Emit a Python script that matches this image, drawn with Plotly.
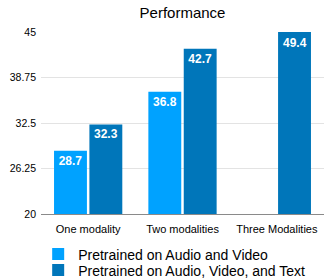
import plotly.graph_objects as go

categories = ["One modality", "Two modalities", "Three Modalities"]
av_values = [28.7, 36.8, None]
avt_values = [32.3, 42.7, 49.4]
series_names = ["Pretrained on Audio and Video", "Pretrained on Audio, Video, and Text"]
tick_vals = [20, 26.25, 32.5, 38.75, 45]
tick_text = ["20", "26.25", "32.5", "38.75", "45"]
y_range = [20, 45]

FONT = "Liberation Sans, Arial, Helvetica, sans-serif"
BARGAP = 0.25
GROUPGAP = 0.07
colors = ["#00A2FF", "#0076BA"]


def labels(vals):
    # labels for bars that fit inside the axis range; clipped bars labelled by annotation
    return [("" if (v is None or v > y_range[1]) else f"{v:.1f}") for v in vals]


fig = go.Figure()
for i, (vals, name) in enumerate([(av_values, series_names[0]), (avt_values, series_names[1])]):
    fig.add_trace(go.Bar(
        x=categories, y=vals, name=name,
        legend="legend" if i == 0 else "legend2",
        marker=dict(color=colors[i], line=dict(width=0)),
        text=labels(vals), textposition="inside", insidetextanchor="end",
        textangle=0, constraintext="none",
        textfont=dict(color="white", size=12, family=FONT, weight="bold"),
    ))

# labels for bars clipped by the axis range
slot = (1 - BARGAP) / 2
for s, vals in enumerate([av_values, avt_values]):
    for ci, v in enumerate(vals):
        if v is not None and v > y_range[1]:
            fig.add_annotation(
                x=ci + (s - 0.5) * slot, y=y_range[1], xref="x", yref="y",
                text=f"<b>{v:.1f}</b>", showarrow=False,
                yanchor="top", yshift=-2,
                font=dict(color="white", size=12, family=FONT),
            )

legend_common = dict(orientation="v", xref="container", yref="container",
                     xanchor="left", yanchor="middle",
                     font=dict(size=14, family=FONT, color="black"),
                     itemsizing="constant", bgcolor="rgba(0,0,0,0)",
                     borderwidth=0)

fig.update_layout(
    width=332, height=280,
    margin=dict(l=41, r=8, t=32, b=66, autoexpand=False),
    paper_bgcolor="white", plot_bgcolor="white",
    barmode="group", bargap=BARGAP, bargroupgap=GROUPGAP,
    title=dict(text="Performance", x=0.5, xref="paper", xanchor="center",
               y=1 - 13 / 280, yref="container", yanchor="middle",
               font=dict(size=15, family=FONT, color="black")),
    font=dict(family=FONT, color="black"),
    showlegend=True,
    legend=dict(x=0.115, y=1 - 254.5 / 280, **legend_common),
    legend2=dict(x=0.115, y=1 - 270.5 / 280, **legend_common),
)
fig.update_yaxes(range=y_range, tickvals=tick_vals, ticktext=tick_text,
                 showgrid=True, gridcolor="#e3e3e3", gridwidth=1,
                 zeroline=False, showline=False, ticks="",
                 automargin=False, ticklabelstandoff=4,
                 tickfont=dict(size=10.5, family=FONT, color="black"))
fig.update_xaxes(showgrid=False, showline=True, linecolor="#8a8a8a", linewidth=1,
                 ticks="", automargin=False, ticklabelstandoff=5,
                 tickfont=dict(size=11, family=FONT, color="black"))

fig.write_html(
    "out.html",
    config={"displayModeBar": False},
    post_script="document.body.style.margin='0';document.body.style.overflow='hidden';",
)
